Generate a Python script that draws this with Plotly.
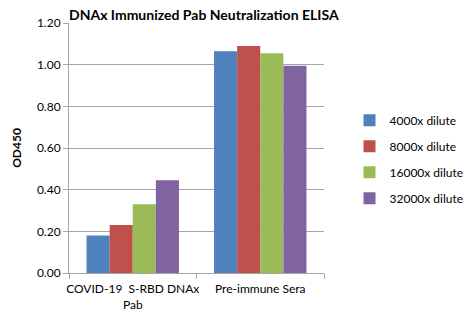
import plotly.graph_objects as go

# Data
categories = ["COVID-19  S-RBD DNAx<br>Pab", "Pre-immune Sera"]
series_names = ["4000x dilute", "8000x dilute", "16000x dilute", "32000x dilute"]
series_values = [
    [0.18, 1.065],
    [0.23, 1.09],
    [0.33, 1.055],
    [0.445, 0.995],
]
colors = ["#4F81BD", "#C0504D", "#9BBB59", "#8064A2"]
y_ticks = [0.0, 0.2, 0.4, 0.6, 0.8, 1.0, 1.2]

font_family = "Lato, 'Open Sans', sans-serif"

fig = go.Figure()
for name, vals, col in zip(series_names, series_values, colors):
    fig.add_trace(go.Bar(
        x=categories, y=vals, name=name, marker_color=col,
        marker_line_width=0, legendgroup=name,
    ))

fig.update_layout(
    width=473, height=324,
    margin=dict(l=69, r=149, t=23, b=51, autoexpand=False),
    paper_bgcolor="white", plot_bgcolor="white",
    font=dict(family=font_family, size=12, color="black"),
    barmode="group", bargap=0.275, bargroupgap=0,
    title=dict(
        text="<b>DNAx Immunized Pab Neutralization ELISA</b>",
        x=69 / 473, xanchor="left", y=1 - 15 / 324, yanchor="middle",
        font=dict(size=14, family=font_family),
    ),
    legend=dict(
        x=1.10, xanchor="left", y=0.455, yanchor="middle",
        font=dict(size=12), tracegroupgap=7, traceorder="grouped",
        itemwidth=30,
    ),
    showlegend=True,
)

fig.update_yaxes(
    range=[0, 1.2], tickvals=y_ticks, ticktext=[f"{v:.2f}" for v in y_ticks],
    showgrid=True, gridcolor="#A6A6A6", gridwidth=1,
    showline=True, linecolor="#A6A6A6", linewidth=1,
    ticks="outside", ticklen=5, tickcolor="#A6A6A6",
    title=dict(text="<b>OD450</b>", font=dict(size=12), standoff=12),
    zeroline=False,
)
fig.update_xaxes(
    showline=True, linecolor="#A6A6A6", linewidth=1,
    ticks="outside", ticklen=5, tickcolor="#A6A6A6",
    tickson="boundaries", showgrid=False, tickangle=0,
    tickfont=dict(size=12), ticklabelstandoff=5,
)

fig.write_html("out.html")
